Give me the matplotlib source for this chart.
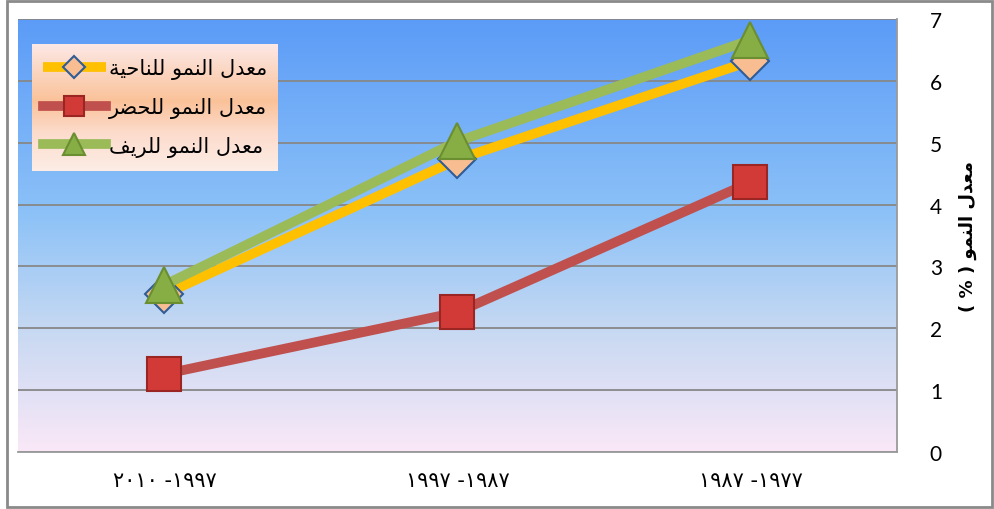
import numpy as np
import matplotlib.pyplot as plt
from matplotlib.patches import Rectangle
from matplotlib.colors import LinearSegmentedColormap

# growth rate (%) per period, oldest period first
periods = ['١٩٨٧ -١٩٧٧', '١٩٩٧ -١٩٨٧', '٢٠١٠ -١٩٩٧']
rate_total = [6.32, 4.73, 2.55]
rate_urban = [4.36, 2.26, 1.26]
rate_rural = [6.66, 5.02, 2.70]
series_names = ['معدل النمو للناحية', 'معدل النمو للحضر', 'معدل النمو للريف']
ylabel_text = 'معدل النمو ( % )'

# matplotlib does no arabic shaping, so pick presentation forms by hand
FORMS = {
    'ا': ('\uFE8D', '\uFE8E', None, None),
    'ة': ('\uFE93', '\uFE94', None, None),
    'ح': ('\uFEA1', '\uFEA2', '\uFEA3', '\uFEA4'),
    'د': ('\uFEA9', '\uFEAA', None, None),
    'ر': ('\uFEAD', '\uFEAE', None, None),
    'ض': ('\uFEBD', '\uFEBE', '\uFEBF', '\uFEC0'),
    'ع': ('\uFEC9', '\uFECA', '\uFECB', '\uFECC'),
    'ف': ('\uFED1', '\uFED2', '\uFED3', '\uFED4'),
    'ل': ('\uFEDD', '\uFEDE', '\uFEDF', '\uFEE0'),
    'م': ('\uFEE1', '\uFEE2', '\uFEE3', '\uFEE4'),
    'ن': ('\uFEE5', '\uFEE6', '\uFEE7', '\uFEE8'),
    'و': ('\uFEED', '\uFEEE', None, None),
    'ي': ('\uFEF1', '\uFEF2', '\uFEF3', '\uFEF4'),
}


def rtl(s):
    out = []
    for i, c in enumerate(s):
        if c not in FORMS:
            out.append(c)
            continue
        prev = s[i - 1] if i > 0 else ''
        nxt = s[i + 1] if i + 1 < len(s) else ''
        iso, fin, ini, med = FORMS[c]
        jp = prev in FORMS and FORMS[prev][2] is not None
        jn = ini is not None and nxt in FORMS
        if jp and jn:
            out.append(med)
        elif jp:
            out.append(fin)
        elif jn:
            out.append(ini)
        else:
            out.append(iso)
    return ''.join(reversed(out)).translate(str.maketrans('()', ')('))


W, H = 994, 510
fig = plt.figure(figsize=(W / 100, H / 100), dpi=100)
fig.patches.append(Rectangle((7 / W, 2 / H), 985 / W, 506 / H, transform=fig.transFigure,
                             fill=False, edgecolor='#8a8a8a', lw=2))

ax = fig.add_axes([18 / W, 57 / H, 879 / W, 433 / H])
ax.patch.set_visible(False)

# plot area background: blue fading to pale pink
bg = LinearSegmentedColormap.from_list('bg', [
    (0.0, (0.36, 0.61, 0.97)), (0.45, (0.55, 0.76, 0.97)),
    (0.72, (0.78, 0.85, 0.95)), (1.0, (0.98, 0.91, 0.97))])
grad = np.linspace(0, 1, 256).reshape(-1, 1)
ax.imshow(grad, cmap=bg, aspect='auto', extent=(0, 1, 0, 1),
          transform=ax.transAxes, zorder=0)

x = np.arange(len(periods))
ax.plot(x, rate_total, color='#FFC000', lw=7, solid_capstyle='butt', zorder=3,
        marker='D', ms=19, mfc='#F8BE92', mec='#2F5C96', mew=1.5, label=rtl(series_names[0]))
ax.plot(x, rate_urban, color='#C0504D', lw=7, zorder=3,
        marker='s', ms=25, mfc='#D23A37', mec='#9A2522', mew=1.5, label=rtl(series_names[1]))
ax.plot(x, rate_rural, color='#9BBB59', lw=7, zorder=4,
        marker='^', ms=26, mfc='#86AE45', mec='#6A8E30', mew=1.5, label=rtl(series_names[2]))

ax.set_xlim(2.5, -0.5)
ax.set_ylim(0, 7)
ax.set_yticks(range(8))
ax.yaxis.tick_right()
ax.tick_params(axis='y', length=0, pad=28, labelsize=15)
for t in ax.get_yticklabels():
    t.set_fontfamily('Lato')
    t.set_horizontalalignment('center')
ax.set_xticks(x)
ax.set_xticklabels(periods, fontsize=15)
ax.tick_params(axis='x', length=0, pad=13)
ax.grid(axis='y', color='#878787', lw=1.3, zorder=1)
for side in ['left', 'top']:
    ax.spines[side].set_visible(False)
for side in ['right', 'bottom']:
    ax.spines[side].set_color('#9a9a9a')
    ax.spines[side].set_linewidth(1.3)

ax.yaxis.set_label_position('right')
ax.set_ylabel(rtl(ylabel_text), fontsize=13, fontweight='bold', rotation=90, labelpad=12)

# legend box with its own peach gradient
lx0, lx1 = (32 - 18) / 879, (278 - 18) / 879
ly0, ly1 = (453 - 172) / 433, (453 - 45) / 433
lg = LinearSegmentedColormap.from_list('lg', [
    (0.0, (0.99, 0.91, 0.90)), (0.45, (0.98, 0.76, 0.60)),
    (0.7, (0.99, 0.86, 0.80)), (1.0, (0.99, 0.93, 0.90))])
ax.imshow(grad, cmap=lg, aspect='auto', extent=(lx0, lx1, ly0, ly1),
          transform=ax.transAxes, zorder=5)
leg = ax.legend(loc='center', bbox_to_anchor=((lx0 + lx1) / 2, (ly0 + ly1) / 2),
                frameon=False, fontsize=15, handlelength=3.0, handletextpad=0.15,
                labelspacing=0.85, markerscale=0.6)
leg.set_zorder(6)

fig.savefig('out.png', dpi=100)
